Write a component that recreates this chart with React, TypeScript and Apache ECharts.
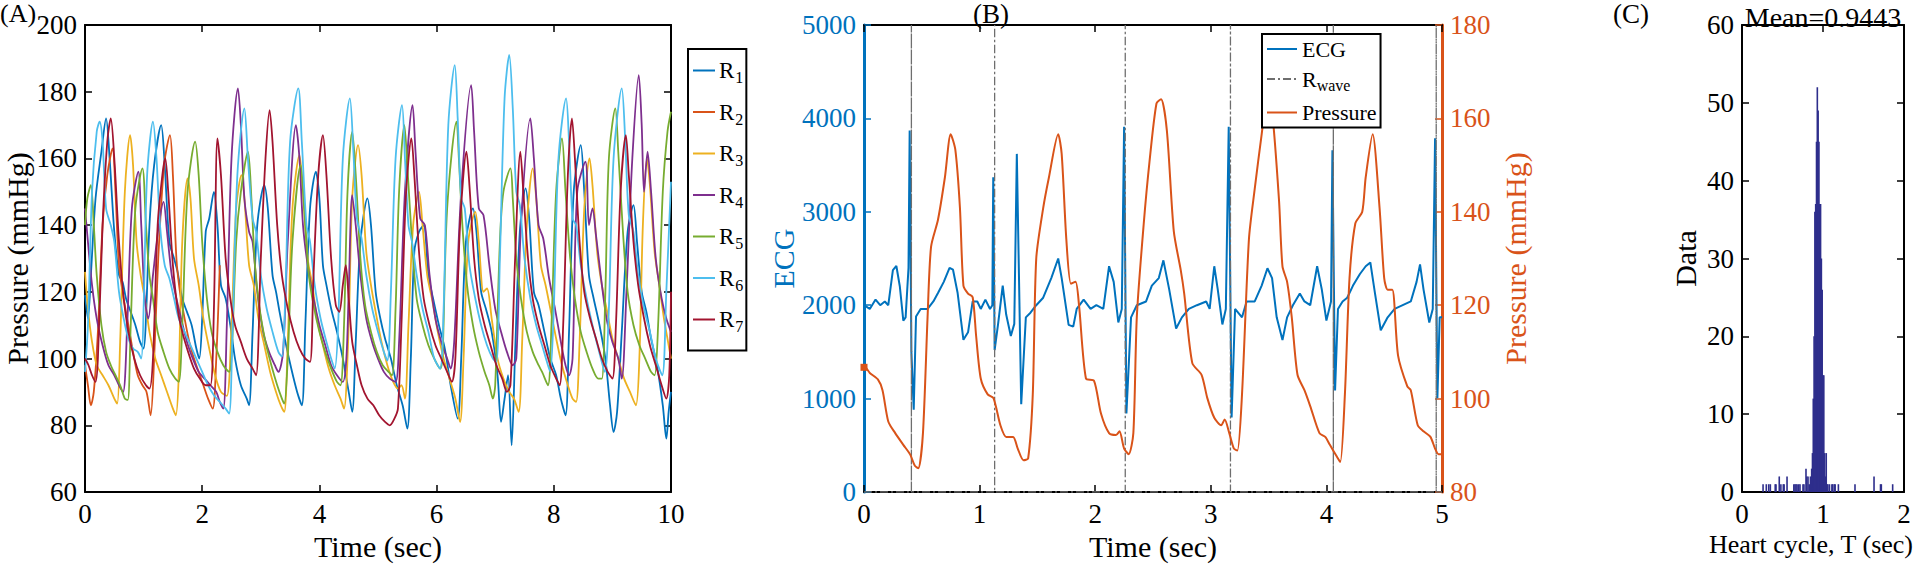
import React, { useEffect, useRef } from "react";
import * as echarts from "echarts";

const FONT = '"Liberation Serif", "Times New Roman", serif';

// ---------- Panel A: arterial pressure of 7 recordings (time sec, mmHg) ----------
const seriesNamesA = ["R1", "R2", "R3", "R4", "R5", "R6", "R7"];
const colorsA = ["#0072BD", "#D95319", "#EDB120", "#7E2F8E", "#77AC30", "#4DBEEE", "#A2142F"];

const r1Data = [[0,119],[0.05,112],[0.1,125],[0.18,148],[0.28,162],[0.36,172],[0.42,160],[0.5,138],[0.58,125],[0.64,123],[0.7,118],[0.78,114],[0.86,110],[0.94,105],[1.0,103],[1.04,112],[1.1,140],[1.18,158],[1.3,170],[1.36,158],[1.44,135],[1.52,130],[1.58,126],[1.66,118],[1.74,114],[1.82,110],[1.9,103],[1.95,100],[2.0,112],[2.06,138],[2.12,142],[2.2,150],[2.26,140],[2.32,122],[2.4,118],[2.48,110],[2.56,100],[2.66,92],[2.76,88],[2.8,86],[2.86,108],[2.94,140],[3.06,152],[3.12,145],[3.2,125],[3.26,120],[3.32,114],[3.42,105],[3.52,97],[3.62,90],[3.7,86],[3.76,110],[3.84,145],[3.94,156],[4.0,148],[4.06,128],[4.12,122],[4.2,115],[4.3,108],[4.4,100],[4.5,90],[4.56,84],[4.62,105],[4.7,135],[4.82,148],[4.88,140],[4.96,120],[5.04,112],[5.12,106],[5.22,100],[5.32,92],[5.42,86],[5.5,79],[5.56,100],[5.62,132],[5.7,138],[5.78,140],[5.86,125],[5.94,118],[6.04,110],[6.14,103],[6.24,92],[6.36,82],[6.42,100],[6.5,135],[6.62,145],[6.68,138],[6.76,120],[6.84,115],[6.94,108],[7.04,95],[7.1,81],[7.16,88],[7.22,95],[7.28,74],[7.34,102],[7.42,138],[7.52,151],[7.58,142],[7.66,120],[7.74,116],[7.84,108],[7.94,100],[8.04,95],[8.12,88],[8.2,83],[8.26,108],[8.34,150],[8.46,164],[8.52,150],[8.6,125],[8.68,118],[8.78,110],[8.88,100],[8.96,86],[9.02,78],[9.08,84],[9.16,108],[9.26,138],[9.36,146],[9.42,135],[9.5,120],[9.58,114],[9.66,106],[9.76,98],[9.86,86],[9.92,76],[9.96,84],[10,90]];
const r2Data = [[0,98],[0.05,92],[0.1,86],[0.15,90],[0.22,108],[0.3,140],[0.38,155],[0.47,163],[0.52,150],[0.58,128],[0.66,118],[0.74,110],[0.82,102],[0.9,95],[0.98,92],[1.05,90],[1.12,83],[1.18,100],[1.25,130],[1.35,158],[1.45,167],[1.5,155],[1.56,130],[1.62,120],[1.7,112],[1.78,105],[1.86,100],[1.94,96],[2.02,92],[2.1,88],[2.18,85],[2.24,100],[2.3,128]];
const r3Data = [[0,126],[0.05,115],[0.12,105],[0.2,98],[0.3,95],[0.4,92],[0.5,88],[0.55,86.5],[0.6,105],[0.68,150],[0.77,167],[0.82,158],[0.88,135],[0.95,125],[1.02,118],[1.1,108],[1.2,100],[1.3,95],[1.4,90],[1.5,85],[1.55,83],[1.6,95],[1.66,135],[1.75,154],[1.8,148],[1.86,130],[1.94,122],[2.02,112],[2.12,103],[2.22,95],[2.32,90],[2.42,88.8],[2.5,110],[2.58,145],[2.67,155],[2.72,148],[2.8,128],[2.88,122],[2.96,112],[3.06,104],[3.16,96],[3.26,90],[3.34,86],[3.4,84],[3.46,105],[3.54,145],[3.66,161],[3.72,150],[3.8,130],[3.88,122],[3.96,112],[4.06,104],[4.16,97],[4.26,92],[4.36,88],[4.42,85],[4.5,110],[4.56,148],[4.66,164],[4.72,155],[4.8,132],[4.88,122],[4.96,114],[5.06,105],[5.16,98],[5.26,93],[5.34,91],[5.4,92],[5.46,88],[5.52,110],[5.6,140],[5.7,150],[5.76,140],[5.84,125],[5.92,118],[6.02,108],[6.12,100],[6.22,94],[6.32,88],[6.4,81],[6.46,100],[6.54,135],[6.66,144],[6.72,135],[6.8,120],[6.86,121],[6.94,112],[7.04,100],[7.14,94],[7.24,90],[7.32,88],[7.4,84],[7.46,105],[7.54,140],[7.64,157],[7.7,148],[7.78,128],[7.86,122],[7.94,115],[8.04,106],[8.14,98],[8.24,92],[8.32,88],[8.38,87],[8.44,105],[8.52,145],[8.61,160],[8.66,152],[8.74,132],[8.82,122],[8.9,115],[9.0,106],[9.1,100],[9.2,94],[9.3,90],[9.4,86],[9.46,100],[9.52,140],[9.59,160],[9.64,152],[9.72,132],[9.8,122],[9.88,112],[9.96,104],[10,100]];
const r4Data = [[0,145],[0.05,135],[0.12,122],[0.2,112],[0.3,104],[0.4,98],[0.5,95],[0.58,92],[0.65,90],[0.72,110],[0.8,145],[0.91,156],[0.96,140],[1.02,118],[1.08,112],[1.16,125],[1.26,140],[1.34,147],[1.4,138],[1.48,125],[1.56,118],[1.64,112],[1.74,105],[1.84,100],[1.94,96],[2.04,94],[2.14,92],[2.24,90],[2.3,87],[2.36,85],[2.42,110],[2.5,160],[2.61,181],[2.66,170],[2.72,148],[2.8,138],[2.86,135],[2.94,120],[3.04,108],[3.14,102],[3.24,98],[3.3,96],[3.38,102],[3.46,135],[3.6,170],[3.66,160],[3.72,140],[3.8,128],[3.9,118],[4.0,110],[4.1,104],[4.2,98],[4.3,95],[4.4,93],[4.46,100],[4.5,120],[4.56,149],[4.62,140],[4.7,125],[4.8,112],[4.9,105],[5.0,100],[5.1,96],[5.2,94],[5.3,93],[5.36,105],[5.46,150],[5.59,176],[5.64,162],[5.72,142],[5.8,140],[5.88,125],[5.98,112],[6.08,105],[6.18,100],[6.24,97],[6.3,105],[6.42,150],[6.59,182],[6.64,168],[6.72,145],[6.8,143],[6.9,128],[7.0,115],[7.1,108],[7.2,102],[7.3,98],[7.36,100],[7.44,140],[7.6,172],[7.66,160],[7.74,140],[7.82,136],[7.92,124],[8.02,115],[8.12,105],[8.2,98],[8.26,95],[8.32,100],[8.4,150],[8.54,159],[8.6,140],[8.66,145],[8.72,137],[8.8,125],[8.9,112],[9.0,105],[9.1,100],[9.16,94],[9.24,120],[9.34,160],[9.45,185],[9.5,170],[9.54,150],[9.6,162],[9.66,150],[9.74,130],[9.84,118],[9.92,112],[10,108]];
const r5Data = [[0,140],[0.04,148],[0.1,152],[0.15,140],[0.2,125],[0.28,110],[0.36,102],[0.44,98],[0.52,95],[0.6,92],[0.68,88],[0.73,87.6],[0.78,110],[0.86,145],[0.98,157],[1.04,140],[1.1,125],[1.16,118],[1.24,108],[1.34,102],[1.44,97],[1.54,94],[1.6,93],[1.66,110],[1.75,150],[1.88,165],[1.94,155],[2.0,135],[2.08,118],[2.16,108],[2.26,102],[2.36,98],[2.46,96],[2.5,100],[2.58,135],[2.66,150],[2.78,162],[2.84,148],[2.9,128],[2.98,115],[3.08,105],[3.18,98],[3.28,92],[3.36,88],[3.4,86.5],[3.46,100],[3.54,135],[3.68,158],[3.74,145],[3.82,125],[3.9,116],[4.0,108],[4.1,102],[4.2,97],[4.3,93],[4.36,92],[4.42,110],[4.48,150],[4.56,168],[4.62,155],[4.7,130],[4.78,116],[4.88,108],[4.98,102],[5.08,98],[5.18,96],[5.24,95],[5.3,115],[5.36,150],[5.45,170],[5.5,158],[5.58,135],[5.66,118],[5.76,110],[5.86,104],[5.96,100],[6.06,97],[6.1,100],[6.18,145],[6.34,171],[6.38,160],[6.44,140],[6.52,122],[6.62,110],[6.72,102],[6.82,96],[6.9,92],[6.96,88],[7.0,92],[7.08,135],[7.14,150],[7.26,157],[7.3,148],[7.36,130],[7.44,118],[7.54,108],[7.64,102],[7.74,98],[7.8,96],[7.9,92],[7.96,110],[8.04,150],[8.14,166],[8.2,150],[8.28,130],[8.36,118],[8.46,108],[8.56,102],[8.66,97],[8.76,94],[8.82,94],[8.88,120],[8.94,160],[9.05,175],[9.1,162],[9.18,138],[9.26,120],[9.36,110],[9.46,104],[9.56,100],[9.66,96],[9.72,95],[9.78,110],[9.86,150],[9.94,168],[10,174]];
const r6Data = [[0,96],[0.05,110],[0.12,150],[0.2,168],[0.25,171],[0.3,165],[0.36,145],[0.44,140],[0.5,135],[0.58,120],[0.66,112],[0.74,106],[0.82,103],[0.9,102],[0.96,100],[1.0,115],[1.06,155],[1.16,171],[1.22,160],[1.28,140],[1.36,128],[1.44,124],[1.52,118],[1.6,112],[1.7,108],[1.8,104],[1.9,100],[2.0,96],[2.1,92],[2.2,89],[2.3,87],[2.4,85],[2.46,83.5],[2.52,110],[2.6,155],[2.72,175],[2.78,160],[2.86,142],[2.92,138],[3.0,125],[3.1,115],[3.2,108],[3.3,102],[3.36,100.6],[3.42,120],[3.5,165],[3.64,181],[3.7,165],[3.78,140],[3.84,135],[3.92,122],[4.02,112],[4.12,105],[4.2,100],[4.26,97],[4.32,110],[4.4,160],[4.52,178],[4.58,162],[4.64,142],[4.72,136],[4.8,125],[4.9,115],[5.0,108],[5.1,102],[5.16,99.4],[5.22,120],[5.3,160],[5.41,176],[5.46,160],[5.52,140],[5.58,135],[5.66,125],[5.76,115],[5.86,108],[5.96,100],[6.06,97],[6.12,115],[6.2,170],[6.31,188],[6.36,172],[6.42,148],[6.48,145],[6.56,128],[6.66,118],[6.76,110],[6.86,104],[6.96,100],[7.02,99],[7.08,130],[7.16,178],[7.24,191],[7.3,175],[7.36,150],[7.42,146],[7.5,130],[7.6,118],[7.7,110],[7.8,104],[7.9,98],[7.94,96],[8.0,115],[8.08,160],[8.21,178],[8.26,165],[8.32,142],[8.38,140],[8.46,128],[8.56,118],[8.66,110],[8.76,103],[8.87,96],[8.94,115],[9.02,160],[9.16,181],[9.22,165],[9.28,143],[9.36,138],[9.44,125],[9.54,115],[9.64,108],[9.74,100],[9.85,95],[9.92,120],[10,153]];
const r7Data = [[0,100],[0.06,98],[0.12,95],[0.18,93],[0.22,100],[0.3,140],[0.38,165],[0.44,172],[0.5,160],[0.58,135],[0.66,118],[0.74,108],[0.84,100],[0.94,95],[1.04,92],[1.1,91],[1.16,100],[1.24,140],[1.32,155],[1.37,160],[1.42,150],[1.5,128],[1.58,115],[1.66,108],[1.76,102],[1.86,97],[1.96,94],[2.06,92],[2.14,92],[2.2,115],[2.26,166],[2.32,155],[2.4,130],[2.48,118],[2.56,110],[2.66,105],[2.76,100],[2.86,97],[2.92,95],[3.0,130],[3.08,160],[3.15,174.5],[3.2,165],[3.28,140],[3.36,125],[3.46,115],[3.56,108],[3.66,103],[3.76,100],[3.84,99],[3.9,125],[3.98,155],[4.06,167],[4.12,155],[4.2,130],[4.28,116],[4.34,114],[4.4,122],[4.45,128],[4.5,118],[4.56,105],[4.64,98],[4.72,92],[4.82,88],[4.92,86],[5.02,83],[5.12,81],[5.2,80],[5.28,82],[5.34,85],[5.4,110],[5.48,150],[5.57,166],[5.62,155],[5.7,132],[5.78,118],[5.88,110],[5.98,104],[6.08,100],[6.18,96],[6.26,93],[6.32,100],[6.4,140],[6.51,162],[6.56,152],[6.64,130],[6.72,118],[6.82,110],[6.92,104],[7.02,98],[7.12,94],[7.2,90],[7.26,92],[7.34,130],[7.43,162],[7.48,150],[7.56,130],[7.64,118],[7.74,110],[7.84,104],[7.94,98],[8.04,94],[8.1,92],[8.16,110],[8.24,155],[8.31,172],[8.36,160],[8.44,135],[8.52,120],[8.62,112],[8.72,106],[8.82,100],[8.92,96],[9.0,94],[9.06,110],[9.14,150],[9.23,167],[9.28,155],[9.36,135],[9.44,122],[9.54,112],[9.64,104],[9.74,98],[9.84,92],[9.92,88],[9.97,95],[10,120]];
const dataA = [r1Data, r2Data, r3Data, r4Data, r5Data, r6Data, r7Data];

// ---------- Panel B: ECG, R-wave markers and pressure over 5 s ----------
const ecgData = [[0,2000],[0.05,1960],[0.1,2060],[0.14,2000],[0.18,2040],[0.21,2000],[0.25,2375],[0.28,2420],[0.31,2200],[0.34,1835],[0.36,1870],[0.385,2400],[0.395,3870],[0.41,1500],[0.43,880],[0.45,1880],[0.49,1960],[0.55,1960],[0.6,2040],[0.64,2130],[0.69,2250],[0.74,2400],[0.77,2380],[0.81,2130],[0.84,1830],[0.86,1630],[0.9,1710],[0.94,2040],[0.98,2040],[1.01,1960],[1.05,2060],[1.09,1960],[1.11,2000],[1.118,3370],[1.13,1520],[1.16,1800],[1.2,2210],[1.23,1900],[1.27,1670],[1.3,1800],[1.322,3620],[1.36,940],[1.4,1870],[1.44,1920],[1.49,2000],[1.55,2080],[1.62,2290],[1.68,2500],[1.71,2290],[1.77,1790],[1.81,1770],[1.84,1960],[1.9,2060],[1.96,1960],[2.01,2000],[2.07,1960],[2.12,2417],[2.16,2250],[2.2,1815],[2.23,1960],[2.25,3910],[2.27,840],[2.31,1870],[2.36,2000],[2.44,2040],[2.49,2209],[2.55,2290],[2.59,2480],[2.64,2170],[2.7,1750],[2.75,1870],[2.81,1960],[2.88,2000],[2.96,2040],[2.99,1960],[3.03,2417],[3.06,2170],[3.1,1794],[3.13,1960],[3.155,3910],[3.18,797],[3.21,1960],[3.27,1870],[3.31,2040],[3.38,2040],[3.44,2210],[3.49,2396],[3.53,2290],[3.57,1870],[3.62,1628],[3.66,1870],[3.71,2000],[3.77,2126],[3.81,2040],[3.86,2000],[3.92,2417],[3.96,2170],[4.0,1835],[4.04,2040],[4.052,3660],[4.075,1088],[4.1,1960],[4.14,2040],[4.18,2080],[4.23,2210],[4.29,2334],[4.34,2417],[4.38,2458],[4.42,2130],[4.47,1732],[4.53,1870],[4.59,1960],[4.66,2000],[4.73,2040],[4.78,2250],[4.81,2437],[4.84,2170],[4.89,1815],[4.92,1960],[4.94,3787],[4.96,1005],[4.98,1870],[5.0,1870]];
const rWaveTimes = [0.41, 1.13, 2.26, 3.17, 4.06, 4.95];
const rWaveHigh = 5000;
const pressureData = [[0,106.7],[0.02,106.5],[0.05,105.5],[0.12,104.1],[0.16,101.8],[0.21,95.1],[0.27,92.6],[0.34,90.1],[0.4,88],[0.44,85.6],[0.47,85.1],[0.51,92.6],[0.55,117.5],[0.58,132.5],[0.64,138.3],[0.7,147.4],[0.75,156.6],[0.79,153.3],[0.83,140.8],[0.86,124.2],[0.9,122.5],[0.94,121.7],[0.97,113.4],[1.01,104.3],[1.07,100.9],[1.12,100.1],[1.18,94.3],[1.23,91.8],[1.29,91.8],[1.33,89.3],[1.38,86.8],[1.42,87.2],[1.46,100.9],[1.49,130],[1.55,140.8],[1.6,147.4],[1.68,156.6],[1.71,152.4],[1.75,134.2],[1.79,124.6],[1.83,125],[1.86,120],[1.92,104.3],[1.99,103.8],[2.05,96.8],[2.12,92.6],[2.18,92.2],[2.21,93],[2.25,89.3],[2.29,88.1],[2.33,92.6],[2.36,117.5],[2.42,137.5],[2.47,150.8],[2.53,163.2],[2.57,164.1],[2.62,157.4],[2.68,135.8],[2.74,127.5],[2.77,122.5],[2.84,107.6],[2.92,105.1],[2.97,100.1],[3.03,95.9],[3.09,94.3],[3.12,95.5],[3.16,92.6],[3.2,89.3],[3.23,88.9],[3.27,100.9],[3.33,134.2],[3.38,144.9],[3.44,156.6],[3.49,164.9],[3.53,161.6],[3.59,142.5],[3.62,128.3],[3.66,125],[3.7,117.5],[3.75,105.1],[3.81,101.8],[3.86,98.4],[3.94,92.6],[3.99,91.8],[4.03,90.1],[4.09,87.6],[4.12,86.4],[4.16,100.9],[4.2,125.8],[4.25,137.5],[4.31,140],[4.34,147.4],[4.4,156.6],[4.46,140.8],[4.5,125.8],[4.53,123.3],[4.57,123.3],[4.62,109.2],[4.7,102.6],[4.73,101.8],[4.79,94.3],[4.84,93],[4.9,91.8],[4.94,89.3],[4.97,88.1],[5,88.1]];

// ---------- Panel C: histogram of heart cycle lengths ----------
const histBins = [0.26,0.30,0.33,0.35,0.41,0.42,0.46,0.48,0.51,0.52,0.556,0.64,0.654,0.667,0.68,0.70,0.716,0.753,0.765,0.79,0.80,0.815,0.83,0.845,0.86,0.87,0.88,0.89,0.90,0.91,0.92,0.93,0.94,0.95,0.96,0.97,0.98,0.99,1.00,1.01,1.02,1.03,1.04,1.05,1.06,1.08,1.11,1.12,1.14,1.15,1.19,1.395,1.63,1.71,1.72,1.86];
const histCounts = [1,1,1,1,1,1,2,1,1,1,2,1,1,1,1,1,1,1,1,3,2,2,1,2,3,5,12,20,36,37,45,52,49,45,37,37,30,26,15,15,5,2,5,1,1,1,1,1,1,1,1,1,2,1,1,1];
const meanLabel = "Mean=0.9443";

// ---------- layout ----------
const GRID_TOP = 25;
const GRID_BOTTOM = 80;
const TICK_FS = 27;
const TITLE_FS = 30;

function makeAxis(extra: any) {
  return {
    type: "value",
    splitLine: { show: false },
    axisLine: { show: true, onZero: false, lineStyle: { color: "#000", width: 2 } },
    axisTick: { show: true, inside: true, length: 7, lineStyle: { color: "#000", width: 1.5 } },
    axisLabel: { color: "#000", fontSize: TICK_FS, fontFamily: FONT, margin: 8, formatter: (v: number) => String(v) },
    nameTextStyle: { color: "#000", fontSize: TITLE_FS, fontFamily: FONT },
    nameLocation: "middle",
    ...extra,
  };
}
function mirrorAxis(extra: any) {
  return makeAxis({ axisLabel: { show: false }, name: "", ...extra });
}

export default function App() {
  const ref = useRef<HTMLDivElement>(null);
  useEffect(() => {
    const chart = echarts.init(ref.current as HTMLDivElement, null, { renderer: "svg" });

    const rWaveData: number[][] = [[0, 0]];
    rWaveTimes.forEach((t) => {
      rWaveData.push([t, 0], [t, rWaveHigh], [t, 0]);
    });
    rWaveData.push([5, 0]);

    const seriesA = seriesNamesA.map((name, i) => ({
      name,
      type: "line",
      xAxisIndex: 0,
      yAxisIndex: 0,
      data: dataA[i],
      symbol: "none",
      smooth: 0.3,
      color: colorsA[i],
      lineStyle: { width: 1.8, color: colorsA[i] },
    }));

    const pressureItems: any[] = pressureData.map((p, i) =>
      i === 0 ? { value: p, symbol: "rect", symbolSize: 7 } : { value: p }
    );

    const option: any = {
      animation: false,
      backgroundColor: "#fff",
      textStyle: { fontFamily: FONT },
      grid: [
        { left: 85, right: 1920 - 671, top: GRID_TOP, bottom: GRID_BOTTOM, outerBoundsMode: "none" },
        { left: 864, right: 1920 - 1442, top: GRID_TOP, bottom: GRID_BOTTOM, outerBoundsMode: "none" },
        { left: 1742, right: 16, top: GRID_TOP, bottom: GRID_BOTTOM, outerBoundsMode: "none" },
      ],
      xAxis: [
        makeAxis({ gridIndex: 0, min: 0, max: 10, interval: 2, position: "bottom", name: "Time (sec)", nameGap: 36 }),
        mirrorAxis({ gridIndex: 0, min: 0, max: 10, interval: 2, position: "top" }),
        makeAxis({ gridIndex: 1, min: 0, max: 5, interval: 1, position: "bottom", name: "Time (sec)", nameGap: 36 }),
        mirrorAxis({ gridIndex: 1, min: 0, max: 5, interval: 1, position: "top" }),
        makeAxis({
          gridIndex: 2, min: 0, max: 2, interval: 1, position: "bottom", name: "Heart cycle, T (sec)", nameGap: 36,
          nameTextStyle: { color: "#000", fontSize: 26, fontFamily: FONT, padding: [0, 24, 0, 0] },
        }),
        mirrorAxis({ gridIndex: 2, min: 0, max: 2, interval: 1, position: "top" }),
      ],
      yAxis: [
        makeAxis({ gridIndex: 0, min: 60, max: 200, interval: 20, position: "left", name: "Pressure (mmHg)", nameGap: 49, nameRotate: 90 }),
        mirrorAxis({ gridIndex: 0, min: 60, max: 200, interval: 20, position: "right" }),
        makeAxis({
          gridIndex: 1, min: 0, max: 5000, interval: 1000, position: "left", name: "ECG", nameGap: 64, nameRotate: 90,
          axisLine: { show: true, onZero: false, lineStyle: { color: "#0072BD", width: 3 } },
          axisTick: { show: true, inside: true, length: 7, lineStyle: { color: "#0072BD", width: 1.5 } },
          axisLabel: { color: "#0072BD", fontSize: TICK_FS, fontFamily: FONT, margin: 8, formatter: (v: number) => String(v) },
          nameTextStyle: { color: "#0072BD", fontSize: TITLE_FS, fontFamily: FONT },
        }),
        makeAxis({
          gridIndex: 1, min: 80, max: 180, interval: 20, position: "right", name: "Pressure (mmHg)", nameGap: 58, nameRotate: 90,
          axisLine: { show: true, onZero: false, lineStyle: { color: "#D95319", width: 3 } },
          axisTick: { show: true, inside: true, length: 7, lineStyle: { color: "#D95319", width: 1.5 } },
          axisLabel: { color: "#D95319", fontSize: TICK_FS, fontFamily: FONT, margin: 8, formatter: (v: number) => String(v) },
          nameTextStyle: { color: "#D95319", fontSize: TITLE_FS, fontFamily: FONT },
        }),
        makeAxis({ gridIndex: 2, min: 0, max: 60, interval: 10, position: "left", name: "Data", nameGap: 42, nameRotate: 90 }),
        mirrorAxis({ gridIndex: 2, min: 0, max: 60, interval: 10, position: "right" }),
      ],
      legend: [
        {
          data: seriesNamesA,
          orient: "vertical",
          left: 688,
          top: 49,
          itemWidth: 22,
          itemHeight: 14,
          itemGap: 15,
          padding: [10, 3, 16, 4],
          borderColor: "#000",
          borderWidth: 2,
          backgroundColor: "#fff",
          itemStyle: { opacity: 0 },
          textStyle: {
            fontSize: 23, fontFamily: FONT, color: "#000", padding: [0, 0, 0, -1],
            rich: {
              b: { fontSize: 23, fontFamily: FONT, color: "#000" },
              s: { fontSize: 16, fontFamily: FONT, color: "#000", padding: [14, 0, 0, 1] },
            },
          },
          formatter: (name: string) => `{b|R}{s|${name.slice(1)}}`,
        },
        {
          data: ["ECG", "R_wave", "Pressure"],
          orient: "vertical",
          left: 1262,
          top: 34,
          itemWidth: 30,
          itemHeight: 14,
          itemGap: 8,
          padding: [4, 4, 4, 4],
          borderColor: "#000",
          borderWidth: 2,
          backgroundColor: "#fff",
          itemStyle: { opacity: 0 },
          textStyle: {
            fontSize: 22, fontFamily: FONT, color: "#000",
            rich: {
              b: { fontSize: 22, fontFamily: FONT, color: "#000" },
              s: { fontSize: 16, fontFamily: FONT, color: "#000", padding: [13, 0, 0, 0] },
            },
          },
          formatter: (name: string) => (name === "R_wave" ? "{b|R}{s|wave}" : `{b|${name}}`),
        },
      ],
      graphic: [
        { type: "text", left: 0, top: 0, style: { text: "(A)", fill: "#000", font: `26px ${FONT}` } },
        { type: "text", left: 973, top: 0, style: { text: "(B)", fill: "#000", font: `27px ${FONT}` } },
        { type: "text", left: 1613, top: 0, style: { text: "(C)", fill: "#000", font: `27px ${FONT}` } },
        {
          type: "text",
          x: 1823,
          y: 17,
          style: { text: meanLabel, fill: "#000", font: `28px ${FONT}`, textAlign: "center", align: "center", textVerticalAlign: "middle", verticalAlign: "middle" },
        },
      ],
      series: [
        ...seriesA,
        {
          name: "ECG",
          type: "line",
          xAxisIndex: 2,
          yAxisIndex: 2,
          data: ecgData,
          symbol: "none",
          color: "#0072BD",
          lineStyle: { width: 2, color: "#0072BD" },
        },
        {
          name: "R_wave",
          type: "line",
          xAxisIndex: 2,
          yAxisIndex: 2,
          data: rWaveData,
          symbol: "none",
          color: "#6e6e6e",
          lineStyle: { width: 1.3, color: "#6e6e6e", type: [8, 3, 2, 3] },
        },
        {
          name: "Pressure",
          type: "line",
          xAxisIndex: 2,
          yAxisIndex: 3,
          data: pressureItems,
          symbol: "none",
          smooth: 0.25,
          color: "#D95319",
          itemStyle: { color: "#D95319" },
          lineStyle: { width: 2, color: "#D95319" },
        },
        {
          name: "hist",
          type: "bar",
          xAxisIndex: 4,
          yAxisIndex: 4,
          data: histBins.map((t, i) => [t, histCounts[i]]),
          barWidth: 1.6,
          itemStyle: { color: "#2E2E8C" },
        },
      ],
    };
    chart.setOption(option);
    return () => chart.dispose();
  }, []);
  return <div ref={ref} style={{ position: "fixed", left: 0, top: 0, width: 1920, height: 572, background: "#fff" }} />;
}
